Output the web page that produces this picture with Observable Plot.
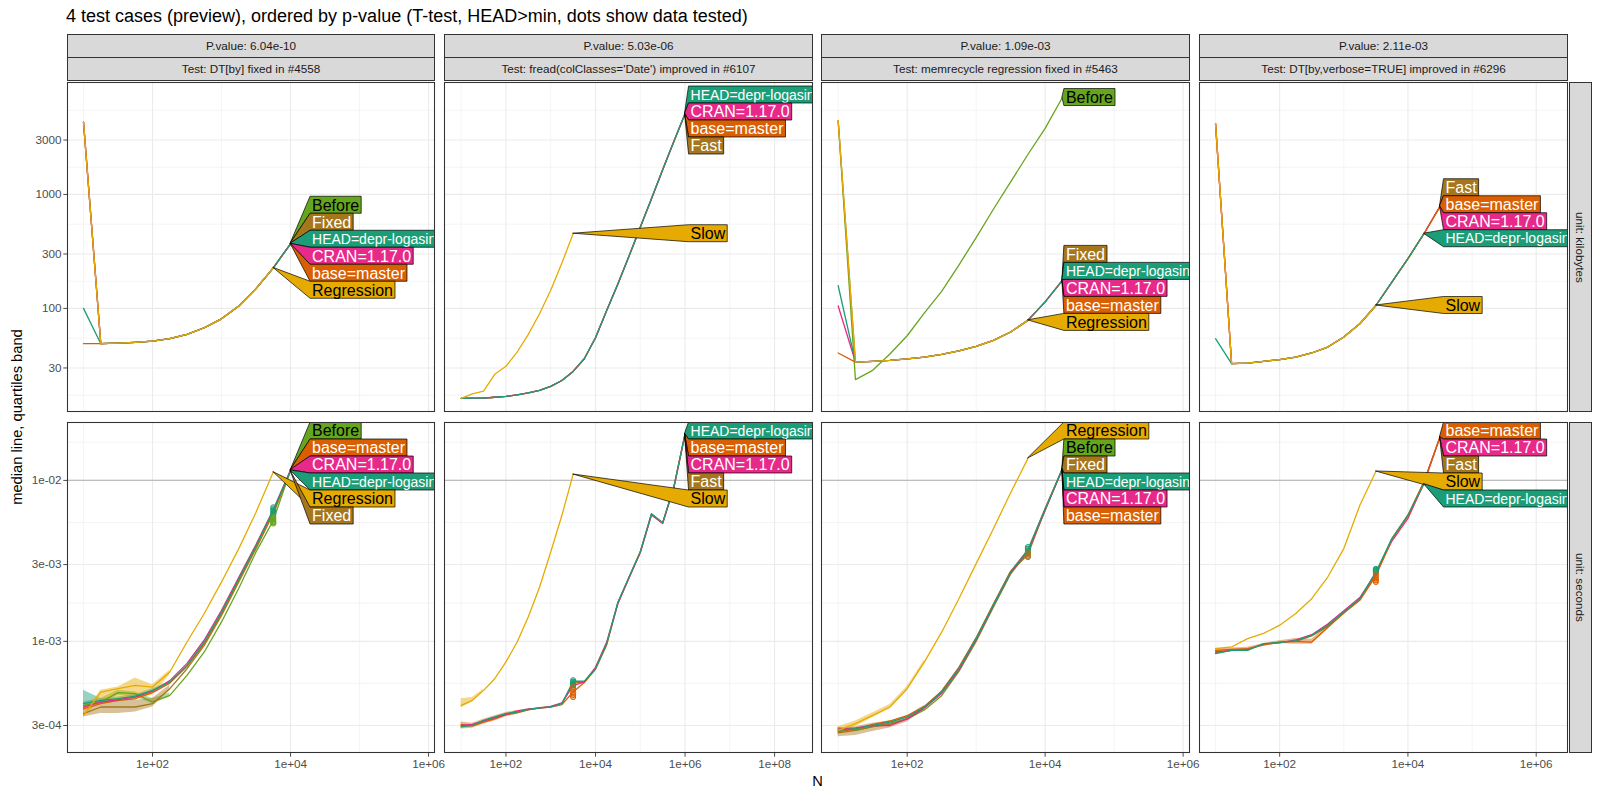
<!DOCTYPE html>
<html>
<head>
<meta charset="utf-8">
<script src="https://cdn.jsdelivr.net/npm/d3@7"></script>
<script src="https://cdn.jsdelivr.net/npm/@observablehq/plot@0.6"></script>
<style>
  html,body{margin:0;padding:0;background:#fff;}
  #root{position:relative;width:1600px;height:800px;overflow:hidden;font-family:"Liberation Sans",Arial,Helvetica,sans-serif;}
  #root svg{position:absolute;overflow:visible;}
  .strip{position:absolute;box-sizing:border-box;background:#D9D9D9;border:1.07px solid #333333;color:#1A1A1A;font-size:11.7px;display:flex;align-items:center;justify-content:center;white-space:nowrap;}
  .vstrip{writing-mode:vertical-rl;}
  .txt{position:absolute;white-space:nowrap;color:#000;line-height:1;}
</style>
</head>
<body>
<div id="root"></div>
<script>
// ---------------- DATA ----------------
const title = "4 test cases (preview), ordered by p-value (T-test, HEAD>min, dots show data tested)";
const yTitle = "median line, quartiles band";
const xTitle = "N";
const tests = ["DT[by] fixed in #4558", "fread(colClasses='Date') improved in #6107", "memrecycle regression fixed in #5463", "DT[by,verbose=TRUE] improved in #6296"];
const pValues = ["6.04e-10", "5.03e-06", "1.09e-03", "2.11e-03"];
const units = ["kilobytes", "seconds"];

// N values (x)
const N = [10, 17.8, 31.6, 56.2, 100, 178, 316, 562, 1000, 1778, 3162, 5623, 10000, 17783, 31623, 56234, 100000, 177828, 316228, 562341, 1000000];

// tick values
const xMajorA = [100, 1e4, 1e6];
const xMajorB = [100, 1e4, 1e6, 1e8];
const xMinorA = [10, 1e3, 1e5];
const xMinorB = [10, 1e3, 1e5, 1e7];
const yMajorKb = [30, 100, 300, 1000, 3000];
const yMinorKb = [17.3, 54.8, 173, 548, 1732, 5477];
const yMajorSec = [3e-4, 1e-3, 3e-3, 1e-2];
const yMinorSec = [5.48e-4, 1.73e-3, 5.48e-3, 1.73e-2];
const refLineSec = [0.01];

// ---- Test 1: DT[by] fixed in #4558
const dtbyKbBefore = [4300, 49, 49.6, 50.4, 51.6, 54.2, 59.2, 67.6, 81, 105, 149, 227, 369];
const dtbyKbFixed = [4300, 49, 49.6, 50.4, 51.6, 54.2, 59.2, 67.6, 81, 105, 149, 227, 369];
const dtbyKbHead = [100, 49, 49.6, 50.4, 51.6, 54.2, 59.2, 67.6, 81, 105, 149, 227, 369];
const dtbyKbCran = [4300, 49, 49.6, 50.4, 51.6, 54.2, 59.2, 67.6, 81, 105, 149, 227, 369];
const dtbyKbBase = [49, 49, 49.6, 50.4, 51.6, 54.2, 59.2, 67.6, 81, 105, 149, 227, 369];
const dtbyKbRegression = [4300, 49, 49.6, 50.4, 51.6, 54.2, 59.2, 67.6, 81, 105, 149, 227];
const dtbySBefore = [4.00e-4, 4.20e-4, 4.80e-4, 4.73e-4, 4.20e-4, 4.62e-4, 6.15e-4, 8.59e-4, 1.32e-3, 2.14e-3, 3.59e-3, 5.65e-3, 1.153e-2];
const dtbySFixed = [3.56e-4, 3.91e-4, 3.91e-4, 3.91e-4, 4.10e-4, 5.08e-4, 6.76e-4, 9.44e-4, 1.45e-3, 2.34e-3, 3.77e-3, 6.21e-3, 1.150e-2];
const dtbySHead = [4.10e-4, 4.30e-4, 4.41e-4, 4.57e-4, 4.96e-4, 5.59e-4, 7.09e-4, 9.91e-4, 1.52e-3, 2.45e-3, 3.94e-3, 6.52e-3, 1.153e-2];
const dtbySCran = [3.90e-4, 4.20e-4, 4.35e-4, 4.50e-4, 4.90e-4, 5.70e-4, 7.30e-4, 1.02e-3, 1.56e-3, 2.50e-3, 4.00e-3, 6.60e-3, 1.160e-2];
const dtbySBase = [3.80e-4, 4.10e-4, 4.30e-4, 4.40e-4, 4.80e-4, 5.50e-4, 7.00e-4, 9.70e-4, 1.49e-3, 2.40e-3, 3.90e-3, 6.40e-3, 1.155e-2];
const dtbySRegression = [3.47e-4, 4.84e-4, 5.08e-4, 5.33e-4, 5.20e-4, 6.45e-4, 9.91e-4, 1.49e-3, 2.34e-3, 3.77e-3, 6.35e-3, 1.127e-2];
const dtbySRegressionQ1 = [3.39e-4, 4.30e-4, 4.30e-4, 4.41e-4, 4.62e-4, 6.15e-4];
const dtbySRegressionQ3 = [3.56e-4, 4.96e-4, 5.20e-4, 5.92e-4, 5.38e-4, 6.61e-4];
const dtbySFixedQ1 = [3.39e-4, 3.56e-4, 3.56e-4, 3.64e-4, 3.91e-4, 4.96e-4];
const dtbySFixedQ3 = [3.91e-4, 4.20e-4, 4.30e-4, 4.30e-4, 4.41e-4, 5.33e-4];
const dtbySHeadQ1 = [3.91e-4, 4.10e-4, 4.20e-4, 4.41e-4, 4.80e-4, 5.46e-4];
const dtbySHeadQ3 = [4.96e-4, 4.41e-4, 4.51e-4, 4.67e-4, 5.08e-4, 5.65e-4];
const dtbySBeforeQ1 = [3.82e-4, 4.10e-4, 4.62e-4, 4.51e-4, 4.10e-4, 4.51e-4];
const dtbySBeforeQ3 = [4.20e-4, 4.41e-4, 4.96e-4, 4.84e-4, 4.41e-4, 4.80e-4];
const dtbyTestedN = 5623;
const dtbyTestedHead = [6.8e-3, 6.6e-3, 6.45e-3, 6.3e-3, 6.1e-3];
const dtbyTestedBefore = [5.9e-3, 5.75e-3, 5.6e-3, 5.5e-3, 5.4e-3];

// ---- Test 2: fread(colClasses='Date') improved in #6107
const freadKbHead = [16.2, 16.3, 16.3, 16.6, 16.9, 17.4, 18.1, 19.1, 20.7, 23.3, 28.0, 36.1, 55.3, 95.9, 164, 288, 516, 916, 1644, 2917, 5105];
const freadKbCran = [16.2, 16.3, 16.3, 16.6, 16.9, 17.4, 18.1, 19.1, 20.7, 23.3, 28.0, 36.1, 55.3, 95.9, 164, 288, 516, 916, 1644, 2917, 5105];
const freadKbBase = [16.2, 16.3, 16.3, 16.6, 16.9, 17.4, 18.1, 19.1, 20.7, 23.3, 28.0, 36.1, 55.3, 95.9, 164, 288, 516, 916, 1644, 2917, 5105];
const freadKbFast = [16.2, 16.3, 16.3, 16.6, 16.9, 17.4, 18.1, 19.1, 20.7, 23.3, 28.0, 36.1, 55.3, 95.9, 164, 288, 516, 916, 1644, 2917, 5105];
const freadKbSlow = [16.2, 17.8, 18.8, 26.4, 31.0, 41.4, 59.2, 89.7, 144, 250, 452];
const freadSHead = [2.94e-4, 3.01e-4, 3.23e-4, 3.39e-4, 3.56e-4, 3.64e-4, 3.78e-4, 3.86e-4, 3.91e-4, 4.10e-4, 5.65e-4, 5.65e-4, 6.76e-4, 9.68e-4, 1.75e-3, 2.51e-3, 3.59e-3, 6.21e-3, 5.46e-3, 9.09e-3, 1.95e-2];
const freadSCran = [3.00e-4, 3.05e-4, 3.20e-4, 3.35e-4, 3.50e-4, 3.70e-4, 3.80e-4, 3.85e-4, 3.95e-4, 4.15e-4, 5.30e-4, 5.60e-4, 6.90e-4, 9.90e-4, 1.72e-3, 2.48e-3, 3.55e-3, 6.10e-3, 5.40e-3, 9.00e-3, 1.93e-2];
const freadSBase = [3.05e-4, 2.98e-4, 3.15e-4, 3.30e-4, 3.50e-4, 3.60e-4, 3.75e-4, 3.85e-4, 3.90e-4, 4.05e-4, 4.84e-4, 5.55e-4, 6.70e-4, 9.50e-4, 1.72e-3, 2.50e-3, 3.60e-3, 6.15e-3, 5.45e-3, 9.10e-3, 1.94e-2];
const freadSFast = [2.97e-4, 3.00e-4, 3.20e-4, 3.37e-4, 3.55e-4, 3.62e-4, 3.77e-4, 3.88e-4, 3.93e-4, 4.12e-4, 5.50e-4, 5.60e-4, 6.80e-4, 9.70e-4, 1.74e-3, 2.50e-3, 3.58e-3, 6.18e-3, 5.44e-3, 9.05e-3, 1.94e-2];
const freadSSlow = [4.00e-4, 4.30e-4, 4.96e-4, 5.86e-4, 7.45e-4, 9.91e-4, 1.42e-3, 2.17e-3, 3.59e-3, 6.07e-3, 1.089e-2];
const freadSSlowQ1 = [3.85e-4, 4.20e-4, 4.85e-4];
const freadSSlowQ3 = [4.40e-4, 4.48e-4, 5.05e-4];
const freadSBaseQ1 = [2.85e-4, 2.88e-4, 3.05e-4, 3.20e-4, 3.40e-4, 3.52e-4];
const freadSBaseQ3 = [3.15e-4, 3.10e-4, 3.28e-4, 3.45e-4, 3.62e-4, 3.72e-4];
const freadTestedN = 3162;
const freadTestedHead = [5.73e-4, 5.6e-4, 5.5e-4, 5.4e-4, 5.33e-4];
const freadTestedBase = [5.2e-4, 5.0e-4, 4.8e-4, 4.65e-4, 4.51e-4];

// ---- Test 3: memrecycle regression fixed in #5463
const memKbBefore = [4426, 23.7, 28.6, 39.8, 57.5, 91.2, 141, 240, 417, 741, 1288, 2239, 3802, 7079];
const memKbFixed = [4426, 33.8, 34.3, 35.0, 36.0, 37.4, 39.5, 42.3, 46.4, 52.3, 62.0, 78.5, 114, 176];
const memKbHead = [158, 33.8, 34.3, 35.0, 36.0, 37.4, 39.5, 42.3, 46.4, 52.3, 62.0, 78.5, 114, 176];
const memKbCran = [105, 33.8, 34.3, 35.0, 36.0, 37.4, 39.5, 42.3, 46.4, 52.3, 62.0, 78.5, 114, 176];
const memKbBase = [40.6, 33.8, 34.3, 35.0, 36.0, 37.4, 39.5, 42.3, 46.4, 52.3, 62.0, 78.5, 114, 176];
const memKbRegression = [4426, 33.8, 34.3, 35.0, 36.0, 37.4, 39.5, 42.3, 46.4, 52.3, 62.0, 78.5];
const memSBefore = [2.90e-4, 2.80e-4, 2.95e-4, 3.10e-4, 3.30e-4, 3.75e-4, 4.60e-4, 6.50e-4, 1.00e-3, 1.63e-3, 2.62e-3, 3.60e-3, 6.50e-3, 1.19e-2];
const memSFixed = [2.70e-4, 2.80e-4, 2.95e-4, 3.05e-4, 3.30e-4, 3.90e-4, 4.90e-4, 6.90e-4, 1.05e-3, 1.70e-3, 2.72e-3, 3.45e-3, 6.60e-3, 1.175e-2];
const memSHead = [2.80e-4, 2.87e-4, 3.01e-4, 3.15e-4, 3.39e-4, 3.91e-4, 4.84e-4, 6.76e-4, 1.04e-3, 1.68e-3, 2.70e-3, 3.70e-3, 6.67e-3, 1.18e-2];
const memSCran = [2.85e-4, 2.90e-4, 3.00e-4, 3.00e-4, 3.30e-4, 3.85e-4, 4.75e-4, 6.60e-4, 1.02e-3, 1.66e-3, 2.66e-3, 3.62e-3, 6.55e-3, 1.17e-2];
const memSBase = [2.75e-4, 2.85e-4, 3.05e-4, 3.20e-4, 3.45e-4, 3.95e-4, 4.90e-4, 6.85e-4, 1.05e-3, 1.70e-3, 2.72e-3, 3.70e-3, 6.70e-3, 1.18e-2];
const memSRegression = [2.80e-4, 3.08e-4, 3.47e-4, 3.91e-4, 5.08e-4, 7.45e-4, 1.14e-3, 1.84e-3, 3.04e-3, 5.01e-3, 8.38e-3, 1.366e-2];
const memSFixedQ1 = [2.55e-4, 2.60e-4, 2.75e-4, 2.90e-4, 3.15e-4, 3.75e-4];
const memSFixedQ3 = [2.90e-4, 2.95e-4, 3.10e-4, 3.20e-4, 3.45e-4, 4.00e-4];
const memSRegressionQ1 = [2.65e-4, 2.95e-4, 3.35e-4, 3.80e-4, 4.95e-4, 7.25e-4];
const memSRegressionQ3 = [2.95e-4, 3.20e-4, 3.60e-4, 4.05e-4, 5.25e-4, 7.65e-4];
const memTestedN = 5623;
const memTestedHead = [3.85e-3, 3.75e-3, 3.65e-3, 3.55e-3];
const memTestedFixed = [3.59e-3, 3.5e-3, 3.4e-3, 3.34e-3];

// ---- Test 4: DT[by,verbose=TRUE] improved in #6296
const verbKbFast = [4169, 32.7, 33.1, 34.3, 35.5, 37.4, 40.6, 45.8, 56.1, 73.3, 106, 170, 273, 452, 785];
const verbKbBase = [4169, 32.7, 33.1, 34.3, 35.5, 37.4, 40.6, 45.8, 56.1, 73.3, 106, 170, 273, 452, 785];
const verbKbCran = [4169, 32.7, 33.1, 34.3, 35.5, 37.4, 40.6, 45.8, 56.1, 73.3, 106, 170, 273, 452, 785];
const verbKbHead = [54.2, 32.7, 33.1, 34.3, 35.5, 37.4, 40.6, 45.8, 56.1, 73.3, 106, 170, 273, 452];
const verbKbSlow = [4169, 32.7, 33.1, 34.3, 35.5, 37.4, 40.6, 45.8, 56.1, 73.3, 106];
const verbSFast = [8.50e-4, 8.80e-4, 8.90e-4, 9.60e-4, 9.90e-4, 1.00e-3, 1.08e-3, 1.24e-3, 1.50e-3, 1.83e-3, 2.62e-3, 4.35e-3, 6.10e-3, 9.80e-3, 1.86e-2];
const verbSBase = [8.80e-4, 8.90e-4, 9.00e-4, 9.50e-4, 9.90e-4, 1.00e-3, 9.90e-4, 1.22e-3, 1.50e-3, 1.80e-3, 2.55e-3, 4.30e-3, 6.00e-3, 9.80e-3, 1.86e-2];
const verbSCran = [8.60e-4, 8.80e-4, 8.90e-4, 9.60e-4, 9.80e-4, 1.02e-3, 1.10e-3, 1.28e-3, 1.55e-3, 1.87e-3, 2.65e-3, 4.20e-3, 5.80e-3, 9.60e-3, 1.86e-2];
const verbSHead = [8.38e-4, 8.79e-4, 8.79e-4, 9.68e-4, 9.82e-4, 1.01e-3, 1.09e-3, 1.26e-3, 1.52e-3, 1.84e-3, 2.70e-3, 4.35e-3, 6.07e-3, 9.50e-3];
const verbSSlow = [9.00e-4, 9.23e-4, 1.04e-3, 1.12e-3, 1.26e-3, 1.49e-3, 1.84e-3, 2.51e-3, 3.77e-3, 7.00e-3, 1.137e-2];
const verbSBaseQ1 = [8.55e-4, 8.65e-4, 8.80e-4, 9.30e-4, 9.70e-4, 9.60e-4, 9.60e-4, 1.19e-3];
const verbSBaseQ3 = [9.05e-4, 9.10e-4, 9.20e-4, 9.70e-4, 1.01e-3, 1.04e-3, 1.03e-3, 1.25e-3];
const verbTestedN = 3162;
const verbTestedHead = [2.82e-3, 2.78e-3, 2.74e-3, 2.70e-3];
const verbTestedBase = [2.63e-3, 2.55e-3, 2.47e-3, 2.40e-3, 2.34e-3];

// label order (top to bottom) per panel
const dtbyOrderKb = ["Before", "Fixed", "HEAD", "CRAN", "base", "Regression"];
const dtbyOrderS = ["Before", "base", "CRAN", "HEAD", "Regression", "Fixed"];
const freadOrderKb = ["HEAD", "CRAN", "base", "Fast", "Slow"];
const freadOrderS = ["HEAD", "base", "CRAN", "Fast", "Slow"];
const memOrderKb = ["Before", "Fixed", "HEAD", "CRAN", "base", "Regression"];
const memOrderS = ["Regression", "Before", "Fixed", "HEAD", "CRAN", "base"];
const verbOrderKb = ["Fast", "base", "CRAN", "HEAD", "Slow"];
const verbOrderS = ["base", "CRAN", "Fast", "Slow", "HEAD"];

const labelText = {Before: "Before", Fixed: "Fixed", Fast: "Fast", base: "base=master", CRAN: "CRAN=1.17.0", HEAD: "HEAD=depr-logasinh", Regression: "Regression", Slow: "Slow"};

// ---------------- STYLE / LAYOUT ----------------
const COLORS = {Before: "#66A61E", Fixed: "#A6761D", Fast: "#A6761D", base: "#D95F02", CRAN: "#E7298A", HEAD: "#1B9E77", Regression: "#E6AB02", Slow: "#E6AB02"};
const TEXT_COLORS = {Before: "#000", Fixed: "#fff", Fast: "#fff", base: "#fff", CRAN: "#fff", HEAD: "#fff", Regression: "#000", Slow: "#000"};
const LABEL_SIZE = {HEAD: 14};
const FONT = '"Liberation Sans", Arial, Helvetica, sans-serif';
const LAYOUT = {
  panelX: [67, 444, 821, 1199],
  panelW: [368, 369, 369, 369],
  rowY: [82, 422],
  rowH: [330, 331],
  axisLeft: 67,
  axisBottom: 48,
  labelStep: 17,
  boxH: 17,
  labelMargin: [4, 0]
};
const COLS = [
  {xDomain: [5.86, 1.26e6], xMajor: xMajorA, xMinor: xMinorA, labelGap: 20},
  {xDomain: [4.24, 7.4e8], xMajor: xMajorB, xMinor: xMinorB, labelGap: 4},
  {xDomain: [5.73, 1.28e6], xMajor: xMajorA, xMinor: xMinorA, labelGap: 2},
  {xDomain: [5.62, 3.19e6], xMajor: xMajorA, xMinor: xMinorA, labelGap: 4}
];
const fmtSci = d => { const [m, e] = d.toExponential(0).split("e"); return m + "e" + e[0] + e.slice(1).padStart(2, "0"); };
const ROWS = [
  {yDomain: [12.2, 9594], yMajor: yMajorKb, yMinor: yMinorKb, fmt: d => String(d)},
  {yDomain: [2.01e-4, 0.0229], yMajor: yMajorSec, yMinor: yMinorSec, fmt: fmtSci}
];

const panels = [
  {
    kb: [{key: "Before", v: dtbyKbBefore}, {key: "Fixed", v: dtbyKbFixed}, {key: "base", v: dtbyKbBase}, {key: "CRAN", v: dtbyKbCran}, {key: "HEAD", v: dtbyKbHead}, {key: "Regression", v: dtbyKbRegression}],
    s: [{key: "Before", v: dtbySBefore, lo: dtbySBeforeQ1, hi: dtbySBeforeQ3}, {key: "Fixed", v: dtbySFixed, lo: dtbySFixedQ1, hi: dtbySFixedQ3}, {key: "base", v: dtbySBase}, {key: "CRAN", v: dtbySCran}, {key: "HEAD", v: dtbySHead, lo: dtbySHeadQ1, hi: dtbySHeadQ3}, {key: "Regression", v: dtbySRegression, lo: dtbySRegressionQ1, hi: dtbySRegressionQ3}],
    testedN: dtbyTestedN, dots: [{key: "HEAD", v: dtbyTestedHead}, {key: "Before", v: dtbyTestedBefore}],
    order: {kb: dtbyOrderKb, s: dtbyOrderS}
  },
  {
    kb: [{key: "Fast", v: freadKbFast}, {key: "base", v: freadKbBase}, {key: "CRAN", v: freadKbCran}, {key: "HEAD", v: freadKbHead}, {key: "Slow", v: freadKbSlow}],
    s: [{key: "Fast", v: freadSFast}, {key: "base", v: freadSBase, lo: freadSBaseQ1, hi: freadSBaseQ3}, {key: "CRAN", v: freadSCran}, {key: "HEAD", v: freadSHead}, {key: "Slow", v: freadSSlow, lo: freadSSlowQ1, hi: freadSSlowQ3}],
    testedN: freadTestedN, dots: [{key: "HEAD", v: freadTestedHead}, {key: "base", v: freadTestedBase}],
    order: {kb: freadOrderKb, s: freadOrderS}
  },
  {
    kb: [{key: "Before", v: memKbBefore}, {key: "Fixed", v: memKbFixed}, {key: "base", v: memKbBase}, {key: "CRAN", v: memKbCran}, {key: "HEAD", v: memKbHead}, {key: "Regression", v: memKbRegression}],
    s: [{key: "Before", v: memSBefore}, {key: "Fixed", v: memSFixed, lo: memSFixedQ1, hi: memSFixedQ3}, {key: "base", v: memSBase}, {key: "CRAN", v: memSCran}, {key: "HEAD", v: memSHead}, {key: "Regression", v: memSRegression, lo: memSRegressionQ1, hi: memSRegressionQ3}],
    testedN: memTestedN, dots: [{key: "HEAD", v: memTestedHead}, {key: "Fixed", v: memTestedFixed}],
    order: {kb: memOrderKb, s: memOrderS}
  },
  {
    kb: [{key: "Fast", v: verbKbFast}, {key: "CRAN", v: verbKbCran}, {key: "base", v: verbKbBase}, {key: "HEAD", v: verbKbHead}, {key: "Slow", v: verbKbSlow}],
    s: [{key: "Fast", v: verbSFast}, {key: "CRAN", v: verbSCran}, {key: "base", v: verbSBase, lo: verbSBaseQ1, hi: verbSBaseQ3}, {key: "HEAD", v: verbSHead}, {key: "Slow", v: verbSSlow}],
    testedN: verbTestedN, dots: [{key: "HEAD", v: verbTestedHead}, {key: "base", v: verbTestedBase}],
    order: {kb: verbOrderKb, s: verbOrderS}
  }
];

// ---------------- RENDER ----------------
const root = document.getElementById("root");

function stackLabels(targets, top, bottom, h, margin) {
  let groups = targets.map((t, i) => ({start: i, n: 1}));
  const place = g => {
    let p = d3.mean(d3.range(g.n), j => targets[g.start + j] - j * h);
    p = Math.min(p, bottom - margin - h / 2 - (g.n - 1) * h);
    p = Math.max(p, top + margin + h / 2);
    g.p = p;
  };
  groups.forEach(place);
  let changed = true;
  while (changed) {
    changed = false;
    for (let i = 0; i < groups.length - 1; i++) {
      const a = groups[i], b = groups[i + 1];
      if (a.p + a.n * h > b.p + 1e-6) {
        const g = {start: a.start, n: a.n + b.n};
        place(g);
        groups.splice(i, 2, g);
        changed = true;
        break;
      }
    }
  }
  const out = [];
  groups.forEach(g => { for (let j = 0; j < g.n; j++) out.push(g.p + j * h); });
  return out;
}

function addDiv(cls, text, css) {
  const d = document.createElement("div");
  d.className = cls;
  d.textContent = text;
  Object.assign(d.style, css);
  root.appendChild(d);
  return d;
}

const rowKeys = ["kb", "s"];
panels.forEach((P, col) => {
  rowKeys.forEach((rk, row) => {
    const ml = col === 0 ? LAYOUT.axisLeft : 0;
    const mb = row === 1 ? LAYOUT.axisBottom : 0;
    const W = LAYOUT.panelW[col], H = LAYOUT.rowH[row];
    const ser = P[rk];
    const lineData = ser.flatMap(s => s.v.map((v, i) => ({key: s.key, N: N[i], v})));
    const bandData = ser.filter(s => s.lo).flatMap(s => s.lo.map((lo, i) => ({key: s.key, N: N[i], lo, hi: s.hi[i]})));
    const dotData = row === 1 ? P.dots.flatMap(d => d.v.map(v => ({key: d.key, N: P.testedN, v}))) : [];
    const grid = "#EBEBEB";
    const marks = [
      Plot.ruleX(COLS[col].xMinor, {stroke: grid, strokeWidth: 0.55}),
      Plot.ruleY(ROWS[row].yMinor, {stroke: grid, strokeWidth: 0.55}),
      Plot.ruleX(COLS[col].xMajor, {stroke: grid, strokeWidth: 1.1}),
      Plot.ruleY(ROWS[row].yMajor, {stroke: grid, strokeWidth: 1.1})
    ];
    if (row === 1) marks.push(Plot.ruleY(refLineSec, {stroke: "#BDBDBD", strokeWidth: 1.2}));
    marks.push(Plot.areaY(bandData, {x: "N", y1: "lo", y2: "hi", z: "key", fill: d => COLORS[d.key], fillOpacity: 0.45}));
    marks.push(Plot.line(lineData, {x: "N", y: "v", z: "key", stroke: d => COLORS[d.key], strokeWidth: 1.3}));
    marks.push(Plot.dot(dotData, {x: "N", y: "v", stroke: d => COLORS[d.key], fill: d => COLORS[d.key], fillOpacity: 0.35, r: 2.6, strokeWidth: 1}));
    const svg = Plot.plot({
      width: ml + W, height: H + mb,
      marginLeft: ml, marginRight: 0, marginTop: 0, marginBottom: mb,
      x: {type: "log", domain: COLS[col].xDomain, axis: row === 1 ? "bottom" : null, ticks: COLS[col].xMajor, tickFormat: fmtSci, tickSize: 3.7, tickPadding: 2.5, label: null},
      y: {type: "log", domain: ROWS[row].yDomain, axis: col === 0 ? "left" : null, ticks: ROWS[row].yMajor, tickFormat: ROWS[row].fmt, tickSize: 3.7, tickPadding: 2.2, label: null},
      color: {type: "identity"},
      style: {background: "transparent", fontSize: "11.7px", fontFamily: FONT, color: "#4D4D4D", overflow: "visible"},
      marks
    });
    svg.style.position = "absolute";
    svg.style.left = (LAYOUT.panelX[col] - ml) + "px";
    svg.style.top = LAYOUT.rowY[row] + "px";
    svg.style.maxWidth = "none";
    root.appendChild(svg);

    // direct labels (polygon style) positioned through the plot's scales
    const xs = svg.scale("x"), ys = svg.scale("y");
    const items = P.order[rk].map(key => {
      const s = ser.find(d => d.key === key);
      const last = s.v.length - 1;
      return {key, ex: xs.apply(N[last]), ey: ys.apply(s.v[last])};
    });
    const pos = stackLabels(items.map(d => d.ey), 0, H, LAYOUT.labelStep, LAYOUT.labelMargin[row]);
    const L = d3.max(items, d => d.ex) + COLS[col].labelGap;
    const sel = d3.select(svg);
    const cid = `clip-${col}-${row}`;
    sel.append("defs").append("clipPath").attr("id", cid)
      .append("rect").attr("x", ml).attr("y", 0).attr("width", W).attr("height", H);
    const g = sel.append("g").attr("clip-path", `url(#${cid})`).attr("text-anchor", "start");
    items.forEach((it, i) => {
      const cy = pos[i];
      const fs = LABEL_SIZE[it.key] || 16;
      const txt = labelText[it.key];
      const t = cy - LAYOUT.boxH / 2, b = cy + LAYOUT.boxH / 2;
      const poly = g.append("polygon")
        .attr("fill", COLORS[it.key]).attr("stroke", "#000").attr("stroke-width", 0.7).attr("stroke-linejoin", "round");
      const text = g.append("text").attr("x", L + 2).attr("y", cy).attr("dy", "0.36em")
        .attr("text-anchor", "start")
        .attr("font-size", fs).attr("font-family", FONT).attr("fill", TEXT_COLORS[it.key]).text(txt);
      const R = L + text.node().getComputedTextLength() + 4;
      poly.attr("points", [[it.ex, it.ey], [L, t], [R, t], [R, b], [L, b]].map(p => p.join(",")).join(" "));
    });
    sel.append("rect").attr("x", ml + 0.5).attr("y", 0.5).attr("width", W - 1).attr("height", H - 1)
      .attr("fill", "none").attr("stroke", "#333333").attr("stroke-width", 1.07);
  });

  // strips
  addDiv("strip", "P.value: " + pValues[col], {left: LAYOUT.panelX[col] + "px", top: "33.5px", width: LAYOUT.panelW[col] + "px", height: "24px"});
  addDiv("strip", "Test: " + tests[col], {left: LAYOUT.panelX[col] + "px", top: "56.7px", width: LAYOUT.panelW[col] + "px", height: "24.3px"});
});

units.forEach((u, row) => {
  addDiv("strip vstrip", "unit: " + u, {left: "1569px", top: LAYOUT.rowY[row] + "px", width: "23px", height: LAYOUT.rowH[row] + "px"});
});

addDiv("txt", title, {left: "66px", top: "6.5px", fontSize: "18px"});
addDiv("txt", yTitle, {left: "17px", top: "417px", fontSize: "14.7px", transform: "translate(-50%,-50%) rotate(-90deg)"});
addDiv("txt", xTitle, {left: "817.5px", top: "781px", fontSize: "14.7px", transform: "translate(-50%,-50%)"});
</script>
</body>
</html>
